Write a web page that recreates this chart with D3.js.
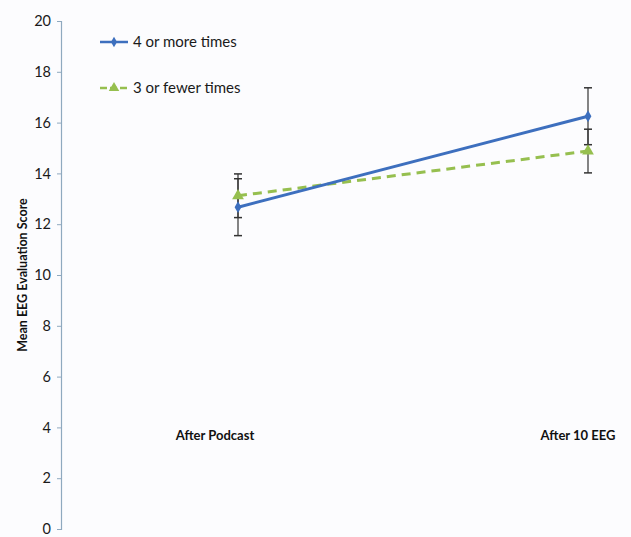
<!DOCTYPE html>
<html><head><meta charset="utf-8">
<script src="https://cdn.jsdelivr.net/npm/d3@7"></script>
<style>
html,body{margin:0;padding:0;background:#fcfcfe;}
svg{display:block;}
text{font-family:Lato, "Open Sans", sans-serif;}
</style></head>
<body>
<svg id="c" width="631" height="537"></svg>
<script>
const categories = ["After Podcast", "After 10 EEG"];
const seriesNames = ["4 or more times", "3 or fewer times"];
const moreValues = [12.67, 16.25];
const moreErrors = [1.12, 1.12];
const fewerValues = [13.12, 14.88];
const fewerErrors = [0.86, 0.86];
const yTicks = [0, 2, 4, 6, 8, 10, 12, 14, 16, 18, 20];

const svg = d3.select("#c");
const y = d3.scaleLinear().domain([0, 20]).range([529, 21]);
const x = d3.scalePoint().domain(categories).range([238, 588]);
const axisX = 61;

// y axis
const ax = svg.append("g").attr("transform", `translate(${axisX},0)`)
  .call(d3.axisLeft(y).tickValues(yTicks).tickSize(4).tickPadding(6).tickFormat(d3.format("d")));
ax.select(".domain").attr("stroke", "#8fa9bf").attr("stroke-width", 1.2);
ax.selectAll(".tick line").attr("stroke", "#8fa9bf");
ax.selectAll(".tick text").attr("fill", "#1a1a1a").style("font-size", "14.5px").style("font-family", "Lato, sans-serif");

svg.append("text").attr("transform", `translate(23,${y(10)}) rotate(-90)`)
  .attr("text-anchor", "middle").attr("dy", "0.35em").style("font-size", "12.5px").style("font-weight", "bold").attr("fill", "#111")
  .text("Mean EEG Evaluation Score");

// category labels
const labelOffsets = [-23, -10];
svg.selectAll(".cat").data(categories).join("text").attr("class", "cat")
  .attr("x", (d, i) => x(d) + labelOffsets[i]).attr("y", 440)
  .attr("text-anchor", "middle").style("font-size", "13px").style("font-weight", "bold").attr("fill", "#111")
  .text(d => d);

const series = [
  {name: seriesNames[0], vals: moreValues, errs: moreErrors, color: "#3d6fbe", dash: null, marker: d3.symbolDiamond, msize: 40, width: 3},
  {name: seriesNames[1], vals: fewerValues, errs: fewerErrors, color: "#96bf4f", dash: "9,6", marker: d3.symbolTriangle, msize: 60, width: 3}
];

// error bars
series.forEach(s => {
  const g = svg.append("g");
  categories.forEach((c, i) => {
    const cx = x(c), lo = y(s.vals[i] - s.errs[i]), hi = y(s.vals[i] + s.errs[i]);
    g.append("line").attr("x1", cx).attr("x2", cx).attr("y1", lo).attr("y2", hi).attr("stroke", "#333").attr("stroke-width", 1.2);
    [lo, hi].forEach(yy => g.append("line").attr("x1", cx - 4).attr("x2", cx + 4).attr("y1", yy).attr("y2", yy).attr("stroke", "#333").attr("stroke-width", 1.5));
  });
});

// lines (draw green first so blue over)
const line = d3.line().x((d, i) => x(categories[i])).y(d => y(d));
[series[1], series[0]].forEach(s => {
  svg.append("path").attr("d", line(s.vals)).attr("fill", "none").attr("stroke", s.color)
    .attr("stroke-width", s.width).attr("stroke-dasharray", s.dash);
  svg.selectAll(null).data(s.vals).join("path")
    .attr("transform", (d, i) => `translate(${x(categories[i])},${y(d)})`)
    .attr("d", d3.symbol().type(s.marker).size(s.msize)).attr("fill", s.color);
});

// legend
const legY = [42, 88];
series.forEach((s, i) => {
  const g = svg.append("g").attr("transform", `translate(100,${legY[i]})`);
  g.append("line").attr("x1", 0).attr("x2", 28).attr("stroke", s.color).attr("stroke-width", 2.5).attr("stroke-dasharray", s.dash ? "7,3" : null);
  g.append("path").attr("transform", "translate(14,0)").attr("d", d3.symbol().type(s.marker).size(s.msize * 0.8)).attr("fill", s.color);
  g.append("text").attr("x", 33).attr("y", 5).style("font-size", "15px").attr("fill", "#1a1a1a").text(s.name);
});
</script>
</body></html>
